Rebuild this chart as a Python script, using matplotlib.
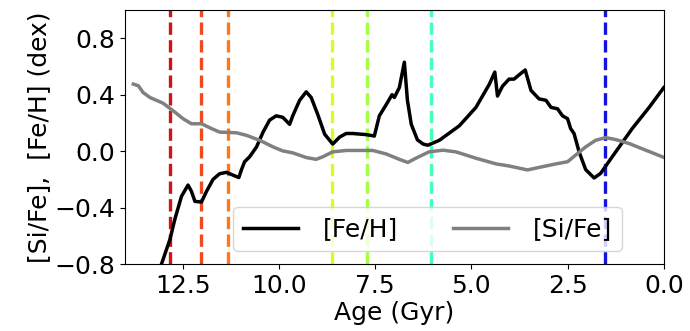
import matplotlib
matplotlib.use('Agg')
import matplotlib.pyplot as plt
import numpy as np

# [Fe/H] vs age (Gyr)
age_feh = [13.05, 12.83, 12.70, 12.53, 12.36, 12.27, 12.18, 12.01, 11.88, 11.71,
           11.54, 11.36, 11.19, 11.04, 10.97, 10.89, 10.76, 10.58, 10.41, 10.24,
           10.07, 9.90, 9.72, 9.64, 9.46, 9.29, 9.16, 8.99, 8.81, 8.60,
           8.42, 8.25, 8.08, 7.73, 7.52, 7.39, 7.21, 7.06, 7.00, 6.87,
           6.74, 6.66, 6.56, 6.40, 6.25, 6.13, 5.83, 5.31, 4.88, 4.53,
           4.39, 4.32, 4.19, 4.02, 3.89, 3.76, 3.60, 3.45, 3.24, 3.06,
           2.93, 2.76, 2.63, 2.50, 2.42, 2.33, 2.20, 2.03, 1.81, 1.64,
           1.34, 0.82, 0.38, 0.0]
feh = [-0.80, -0.625, -0.48, -0.32, -0.24, -0.285, -0.356, -0.36, -0.285, -0.20,
       -0.16, -0.15, -0.17, -0.187, -0.13, -0.075, -0.04, 0.03, 0.135, 0.22,
       0.25, 0.24, 0.19, 0.25, 0.36, 0.42, 0.38, 0.26, 0.12, 0.05,
       0.10, 0.125, 0.125, 0.117, 0.107, 0.25, 0.33, 0.40, 0.38, 0.45,
       0.63, 0.36, 0.19, 0.08, 0.05, 0.042, 0.077, 0.18, 0.31, 0.475,
       0.56, 0.39, 0.46, 0.51, 0.51, 0.54, 0.575, 0.43, 0.37, 0.36,
       0.31, 0.30, 0.25, 0.23, 0.16, 0.124, -0.005, -0.13, -0.19, -0.157,
       -0.04, 0.16, 0.31, 0.45]

# [Si/Fe] vs age (Gyr)
age_sife = [13.78, 13.65, 13.53, 13.35, 13.01, 12.70, 12.49, 12.27, 12.01, 11.75,
            11.54, 11.10, 10.84, 10.50, 10.15, 9.90, 9.64, 9.29, 9.03, 8.86,
            8.60, 8.25, 7.56, 7.21, 6.87, 6.65, 6.44, 6.10, 5.74, 5.40,
            4.88, 4.36, 4.02, 3.54, 3.15, 2.80, 2.50, 2.29, 2.03, 1.77,
            1.51, 1.25, 0.90, 0.47, 0.0]
sife = [0.475, 0.463, 0.416, 0.38, 0.34, 0.276, 0.23, 0.194, 0.194, 0.16,
        0.135, 0.13, 0.112, 0.077, 0.03, 0.002, -0.012, -0.045, -0.058, -0.04,
        -0.005, 0.005, 0.005, -0.02, -0.058, -0.08, -0.05, -0.005, 0.007, -0.005,
        -0.05, -0.09, -0.105, -0.133, -0.11, -0.09, -0.075, -0.028, 0.03, 0.077,
        0.096, 0.082, 0.054, 0.007, -0.044]

# vertical marker ages and colours
vline_ages = [12.83, 12.01, 11.32, 8.62, 7.72, 6.06, 1.53]
vline_colors = ['#d01414', '#f04a1e', '#ff7818', '#d4ff22', '#a4ff44', '#44ffb4', '#1414dc']

fig = plt.figure(figsize=(6.9, 3.31), dpi=100)
ax = fig.add_axes([0.181, 0.202, 0.781, 0.768])

for a, c in zip(vline_ages, vline_colors):
    ax.axvline(a, color=c, ls='--', lw=2.4)

ax.plot(age_feh, feh, color='black', lw=2.5, label='[Fe/H]')
ax.plot(age_sife, sife, color='gray', lw=2.5, label='[Si/Fe]')

ax.set_xlim(14.0, 0.0)
ax.set_ylim(-0.8, 1.0)
ax.set_xticks([12.5, 10.0, 7.5, 5.0, 2.5, 0.0])
ax.set_yticks([-0.8, -0.4, 0.0, 0.4, 0.8])
ax.tick_params(labelsize=18)
ax.set_xlabel('Age (Gyr)', fontsize=18, labelpad=2)
ax.set_ylabel('[Si/Fe],  [Fe/H] (dex)', fontsize=18, labelpad=2)

ax.legend(fontsize=18, ncol=2, loc='lower left', bbox_to_anchor=(0.2, 0.05),
          borderaxespad=0, handlelength=2.2, handletextpad=1.0, columnspacing=2.2)

fig.savefig('out.png', dpi=100)
